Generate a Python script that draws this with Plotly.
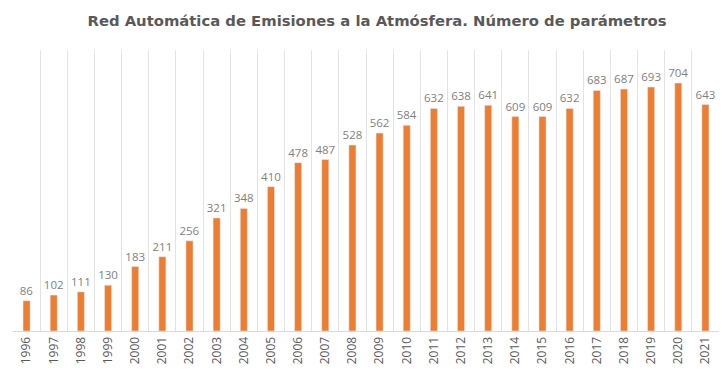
import plotly.graph_objects as go

years = ["1996","1997","1998","1999","2000","2001","2002","2003","2004","2005","2006","2007","2008","2009","2010","2011","2012","2013","2014","2015","2016","2017","2018","2019","2020","2021"]
values = [86,102,111,130,183,211,256,321,348,410,478,487,528,562,584,632,638,641,609,609,632,683,687,693,704,643]

title_text = "Red Automática de Emisiones a la Atmósfera. Número de parámetros"

n = len(years)
idx = list(range(n))

fig = go.Figure(go.Bar(
    x=idx, y=values,
    marker=dict(color="#ED7D31"),
    width=0.26,
    text=[str(v) for v in values],
    textposition="outside",
    constraintext="none",
    textfont=dict(family="Open Sans, sans-serif", size=11.5, color="#7F7F7F"),
    cliponaxis=False,
    hovertext=years,
))

fig.update_layout(
    width=720, height=370,
    margin=dict(l=5, r=9, t=42, b=47, autoexpand=False),
    paper_bgcolor="white", plot_bgcolor="white",
    title=dict(text=title_text, x=(377 - 8) / 720, xanchor="center", y=1 - 13 / 370, yanchor="middle",
               font=dict(family="DejaVu Sans, sans-serif", size=14.8, color="#595959", weight="bold")),
    showlegend=False,
    yaxis=dict(range=[0, 798], showgrid=False, showticklabels=False, zeroline=False, showline=False),
    xaxis=dict(type="linear", range=[-0.5, n - 0.5], tickmode="array", tickvals=idx, ticktext=years,
               showgrid=False, zeroline=False, tickangle=-90, ticks="", showline=True,
               linecolor="#D9D9D9", automargin=False,
               minor=dict(tick0=-0.5, dtick=1, showgrid=True, gridcolor="#E3E3E3", gridwidth=1, ticks=""),
               tickfont=dict(family="Open Sans, sans-serif", size=12, color="#595959")),
)

fig.write_html("out.html")
